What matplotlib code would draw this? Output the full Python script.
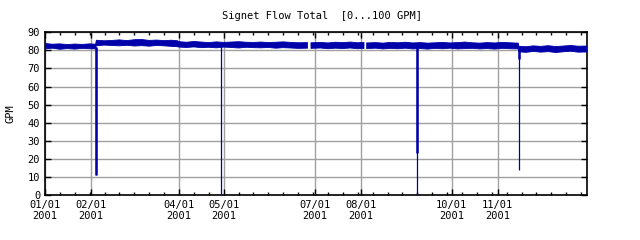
import numpy as np
import pandas as pd
import matplotlib
matplotlib.use("Agg")
import matplotlib.pyplot as plt
import matplotlib.dates as mdates

# day-of-year (0 = 2001-01-01) envelope of the noisy flow band, NaN = no data
band_day = [0, 5, 10, 15, 20, 25, 30, 34,
            34.5, 40, 45, 50, 55, 60, 65, 70, 75, 80, 85, 89,
            90, 95, 100, 105, 110, 115, 120, 125, 130, 135, 140, 145, 150, 155, 160, 165, 170, 176.3,
            176.5, 178.4,
            178.6, 185, 190, 195, 200, 205, 210, 214.2,
            214.4, 215.8,
            216.0, 222, 227, 232, 237, 242, 247, 252, 257, 262, 267, 272, 277, 282,
            287, 292, 297, 302, 307, 312, 317.8,
            318.2, 323, 328, 333, 338, 343, 348, 353, 358, 364]
band_hi = [83.8, 83.4, 83.6, 83.2, 83.5, 83.3, 83.6, 83.4,
           85.6, 85.3, 85.5, 85.8, 85.4, 85.9, 86.0, 85.5, 85.7, 85.4, 85.6, 85.3,
           84.8, 84.5, 84.9, 84.6, 84.3, 84.7, 84.4, 84.6, 84.8, 84.5, 84.4, 84.6, 84.3, 84.5, 84.7, 84.4, 84.2, 84.3,
           np.nan, np.nan,
           84.2, 84.4, 84.1, 84.5, 84.3, 84.6, 84.2, 84.4,
           np.nan, np.nan,
           84.1, 84.3, 84.0, 84.4, 84.2, 84.5, 84.1, 84.3, 84.0, 84.2, 84.4, 84.1, 84.3, 84.6,
           84.2, 84.0, 84.3, 84.1, 84.4, 84.2, 84.0,
           82.3, 82.0, 82.5, 82.2, 82.6, 82.1, 82.4, 82.7, 82.3, 82.4]
band_lo = [80.8, 81.2, 80.6, 81.0, 80.7, 81.1, 80.9, 80.8,
           82.6, 82.9, 82.7, 82.5, 82.8, 82.4, 82.6, 82.3, 82.7, 82.5, 82.2, 82.0,
           81.8, 81.6, 81.9, 81.5, 81.7, 81.4, 81.8, 81.6, 81.3, 81.7, 81.5, 81.4, 81.6, 81.2, 81.5, 81.3, 81.1, 81.2,
           np.nan, np.nan,
           81.1, 81.3, 80.9, 81.2, 81.0, 81.3, 80.9, 81.1,
           np.nan, np.nan,
           81.0, 81.2, 80.8, 81.1, 80.9, 81.2, 80.8, 81.0, 80.7, 81.1, 80.9, 81.2, 80.8, 81.0,
           81.1, 80.8, 81.0, 80.7, 81.1, 80.9, 80.8,
           79.2, 78.9, 79.4, 79.0, 79.3, 78.8, 79.2, 79.5, 79.0, 79.1]

# flow dropouts: day, top of trace, lowest value of the dense part, lowest value reached
spike_day = [34.2, 118.0, 249.8, 318.0]
spike_top = [82.0, 83.0, 82.5, 80.5]
spike_thick_low = [11.0, 83.0, 23.5, 75.0]
spike_low = [11.0, 0.0, 0.0, 14.0]

tick_months = ["2001-01-01", "2001-02-01", "2001-04-01", "2001-05-01",
               "2001-07-01", "2001-08-01", "2001-10-01", "2001-11-01"]

start = pd.Timestamp("2001-01-01")


def to_dates(days):
    return start + pd.to_timedelta(np.asarray(days, dtype=float), unit="D")


blue = "#0000aa"
font = "DejaVu Sans Mono"

fig = plt.figure(figsize=(6.4, 2.4), dpi=100)
ax = fig.add_axes([0.0703, 0.1875, 0.847, 0.678])

ax.fill_between(to_dates(band_day), band_lo, band_hi, color=blue, linewidth=0.6,
                edgecolor=blue, zorder=3)
sd = to_dates(spike_day)
ax.vlines(sd, spike_low, spike_top, color=blue, linewidth=0.9, zorder=3)
ax.vlines(sd, spike_thick_low, spike_top, color=blue, linewidth=1.8, zorder=3)

ax.set_xlim(start, pd.Timestamp("2001-12-31"))
ax.set_ylim(0, 90)

ax.set_xticks(pd.to_datetime(tick_months))
ax.xaxis.set_major_formatter(mdates.DateFormatter("%m/%d\n%Y"))
ax.set_xticks(to_dates(range(0, 365, 10)), minor=True)
ax.set_yticks(range(0, 91, 10))

ax.grid(True, which="major", color="#a0a0a0", linewidth=1.0, zorder=1)
ax.tick_params(which="both", direction="in", top=True, right=True,
               labelsize=7.5, width=1.0, colors="black")
ax.tick_params(which="major", length=4)
ax.tick_params(which="minor", length=2.5)
for lab in ax.get_xticklabels() + ax.get_yticklabels():
    lab.set_family(font)
for s in ax.spines.values():
    s.set_linewidth(1.2)

ax.set_ylabel("GPM", fontsize=7.5, family=font, labelpad=9)
fig.text(0.503, 0.933, "Signet Flow Total  [0...100 GPM]", ha="center", va="center",
         fontsize=7.5, family=font)

fig.savefig("out.png", dpi=100)
